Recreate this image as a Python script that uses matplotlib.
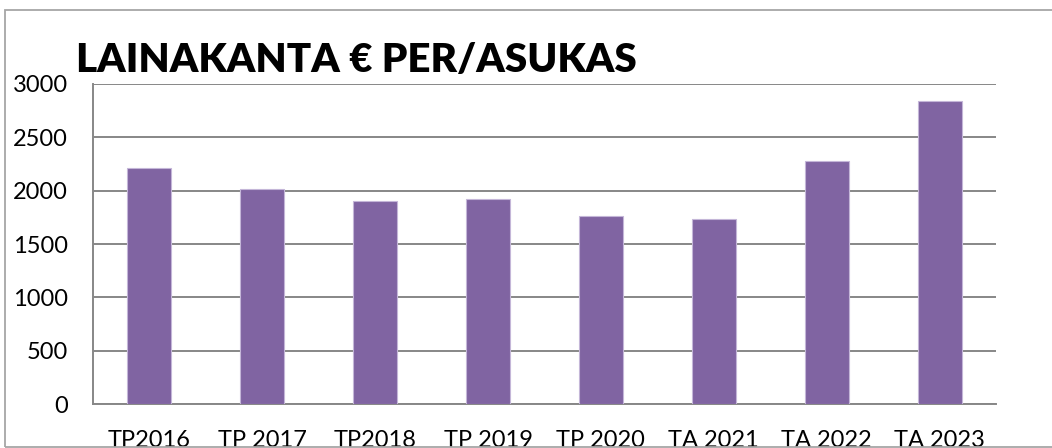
import numpy as np
import matplotlib.pyplot as plt
from matplotlib.patches import Rectangle

# loan stock per resident (euros)
categories = ["TP2016", "TP 2017", "TP2018", "TP 2019", "TP 2020", "TA 2021", "TA 2022", "TA 2023"]
values = [2210, 2013, 1900, 1922, 1766, 1734, 2281, 2841]
y_ticks = [0, 500, 1000, 1500, 2000, 2500, 3000]

W, H = 1052, 448
fig = plt.figure(figsize=(W / 100, H / 100), dpi=100)
plt.rcParams['font.family'] = ['Lato', 'DejaVu Sans']

# outer chart border
fig.patches.append(Rectangle((5 / W, 1 / H), 1.2, (447 - 10) / H, transform=fig.transFigure,
                             fill=False, edgecolor="#a6a6a6", linewidth=1.3, clip_on=False))

ax = fig.add_axes([93 / W, (H - 404) / H, 903 / W, 320 / H])

x = np.arange(len(categories))
ax.bar(x, values, width=0.39, color="#8064a2", edgecolor="#c4b6d8", linewidth=0.8, zorder=3)

ax.set_xlim(-0.5, len(categories) - 0.5)
ax.set_ylim(0, 3000)
ax.set_yticks(y_ticks)
ax.set_xticks(x)
ax.set_xticklabels(categories)

ax.grid(axis="y", color="#878787", linewidth=1.4, zorder=0)
ax.set_axisbelow(True)
for s in ["top", "right"]:
    ax.spines[s].set_visible(False)
for s in ["left", "bottom"]:
    ax.spines[s].set_color("#878787")
    ax.spines[s].set_linewidth(1.4)

ax.tick_params(axis="both", length=0, labelsize=17, colors="black")
ax.tick_params(axis="y", pad=18)
ax.tick_params(axis="x", pad=19)

fig.text(76 / W, (H - 72) / H, "LAINAKANTA € PER/ASUKAS", fontsize=29, fontweight="heavy",
         ha="left", va="baseline")

fig.savefig("out.png", dpi=100)
